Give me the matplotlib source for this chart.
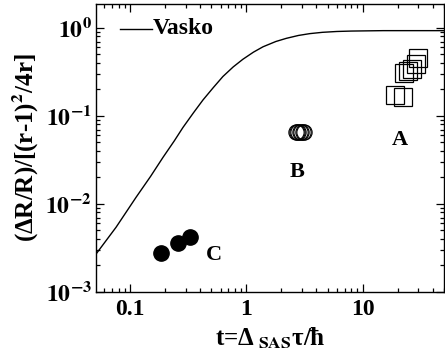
import matplotlib
matplotlib.use("Agg")
import matplotlib.pyplot as plt
from matplotlib.ticker import FixedLocator, FixedFormatter, LogLocator, NullFormatter

# ---------------------------------------------------------------------------
# Data
# ---------------------------------------------------------------------------

# Vasko theory curve
vasko_t = [0.05, 0.0759, 0.1127, 0.15, 0.192, 0.24, 0.285, 0.35, 0.424,
           0.52, 0.628, 0.77, 0.933, 1.15, 1.39, 1.79, 2.2, 2.8, 3.5,
           4.5, 6.0, 8.0, 15.0, 50.0]
vasko_y = [0.0026, 0.00544, 0.0119, 0.0205, 0.0338, 0.052, 0.0739, 0.108,
           0.152, 0.21, 0.28, 0.36, 0.44, 0.53, 0.61, 0.70, 0.76,
           0.82, 0.86, 0.89, 0.91, 0.92, 0.93, 0.93]

# sample A (open squares)
a_t = [18.8, 22.0, 22.5, 24.3, 26.3, 28.5, 29.7]
a_y = [0.175, 0.166, 0.31, 0.327, 0.344, 0.39, 0.46]

# sample B (open circles)
b_t = [2.65, 2.72, 2.8, 2.88, 2.96, 3.04, 3.12]
b_y = [0.0665, 0.0665, 0.066, 0.066, 0.0655, 0.0655, 0.065]

# sample C (filled circles)
c_t = [0.185, 0.258, 0.327]
c_y = [0.00277, 0.0036, 0.0042]

x_ticks = [0.1, 1, 10]
x_tick_labels = ["0.1", "1", "10"]
y_ticks = [1e-3, 1e-2, 1e-1, 1e0]
y_tick_labels = [r"$10^{-3}$", r"$10^{-2}$", r"$10^{-1}$", r"$10^{0}$"]

# ---------------------------------------------------------------------------
# Styling
# ---------------------------------------------------------------------------
plt.rcParams["font.family"] = ["Liberation Serif", "DejaVu Serif"]
plt.rcParams["font.weight"] = "bold"
plt.rcParams["axes.labelweight"] = "bold"
plt.rcParams["mathtext.fontset"] = "stix"
plt.rcParams["mathtext.default"] = "bf"

fig = plt.figure(figsize=(4.45, 3.58), dpi=100)
ax = fig.add_axes([0.2157, 0.1844, 0.7823, 0.8046])

ax.plot(vasko_t, vasko_y, color="black", lw=1.0)
ax.plot(a_t, a_y, ls="none", marker="s", ms=12.5, mfc="none", mec="black", mew=0.9)
ax.plot(b_t, b_y, ls="none", marker="o", ms=11, mfc="none", mec="black", mew=0.8)
ax.plot(c_t, c_y, ls="none", marker="o", ms=11, mfc="black", mec="black")

ax.set_xscale("log")
ax.set_yscale("log")
ax.set_xlim(0.051, 50)
ax.set_ylim(1e-3, 1.87)

ax.xaxis.set_major_locator(FixedLocator(x_ticks))
ax.xaxis.set_major_formatter(FixedFormatter(x_tick_labels))
ax.yaxis.set_major_locator(FixedLocator(y_ticks))
ax.yaxis.set_major_formatter(FixedFormatter(y_tick_labels))
ax.xaxis.set_minor_locator(LogLocator(base=10, subs=range(2, 10)))
ax.yaxis.set_minor_locator(LogLocator(base=10, subs=range(2, 10)))
ax.xaxis.set_minor_formatter(NullFormatter())
ax.yaxis.set_minor_formatter(NullFormatter())

ax.tick_params(which="both", direction="in", top=True, right=True, width=0.9)
ax.tick_params(which="major", length=6, labelsize=17)
ax.tick_params(which="minor", length=3)
ax.tick_params(axis="x", pad=5)
ax.tick_params(axis="y", pad=3)
for sp in ax.spines.values():
    sp.set_linewidth(1.0)

ax.set_xlabel("t=Δ$_{\\ SAS}$τ/ħ", fontsize=18, labelpad=4)
ax.set_ylabel("(ΔR/R)/[(r-1)$^{2}$/4r]", fontsize=18, labelpad=3)

# group labels
ax.text(20.8, 0.0526, "A", fontsize=16, ha="center", va="center")
ax.text(2.71, 0.0229, "B", fontsize=16, ha="center", va="center")
ax.text(0.526, 0.00263, "C", fontsize=16, ha="center", va="center")

# legend drawn by hand like the original
ax.plot([0.082, 0.155], [0.98, 0.98], color="black", lw=1.0)
ax.text(0.156, 0.98, "Vasko", fontsize=17, ha="left", va="center")

fig.savefig("out.png", dpi=100)
